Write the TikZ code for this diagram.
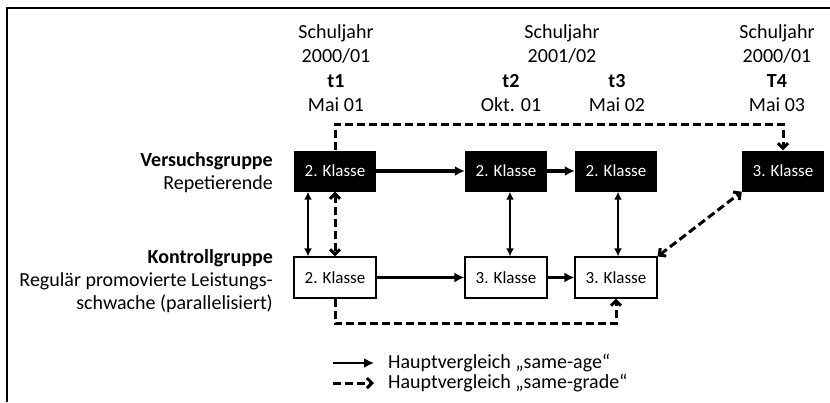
\documentclass[tikz,border=0pt]{standalone}
\usepackage{fontspec}
\setmainfont{Carlito}
\usepackage{tikz}
\usetikzlibrary{arrows.meta,positioning}

\begin{document}
\begin{tikzpicture}[x=1pt,y=-1pt,
  klasse/.style={minimum width=82pt,minimum height=41pt,inner sep=0pt,font=\fontsize{17}{20}\selectfont},
  vgbox/.style={klasse,fill=black,text=white},
  kgbox/.style={klasse,draw=black,line width=1.2pt,fill=white},
  lbl/.style={font=\fontsize{20}{24}\selectfont,inner sep=0pt},
  sameage/.style={line width=3.3pt,-{Latex[length=10pt,width=10pt]}},
  vcomp/.style={line width=2.3pt,{Latex[length=8pt,width=8pt]}-{Latex[length=8pt,width=8pt]}},
  samegrade/.style={line width=3pt,dash pattern=on 8pt off 4pt,-{Straight Barb[length=5pt,width=10pt]}},
  vgrade/.style={samegrade,{Straight Barb[length=5pt,width=10pt]}-{Straight Barb[length=5pt,width=10pt]}}]
\useasboundingbox (0,0) rectangle (830,402);
\draw[line width=2pt] (7,402) -- (7,8) -- (830,8);

% Zeitpunkte
\node[lbl,anchor=base] (sj1) at (336,38) {Schuljahr};
\node[lbl,anchor=base] (yr1) at (336,62.5) {2000/01};
\node[lbl,anchor=base] (t1) at (336,87) {\textbf{t1}};
\node[lbl,anchor=base] (d1) at (336,111.5) {Mai 01};
\node[lbl,anchor=base] (sj2) at (562,38) {Schuljahr};
\node[lbl,anchor=base] (yr2) at (562,62.5) {2001/02};
\node[lbl,anchor=base] (t2) at (511,87) {\textbf{t2}};
\node[lbl,anchor=base] (d2) at (511,111.5) {Okt. 01};
\node[lbl,anchor=base] (t3) at (617,87) {\textbf{t3}};
\node[lbl,anchor=base] (d3) at (617,111.5) {Mai 02};
\node[lbl,anchor=base] (sj4) at (777,38) {Schuljahr};
\node[lbl,anchor=base] (yr4) at (777,62.5) {2000/01};
\node[lbl,anchor=base] (t4) at (777,87) {\textbf{T4}};
\node[lbl,anchor=base] (d4) at (777,111.5) {Mai 03};

% Gruppen
\node[lbl,anchor=base east] (vg) at (273,166) {\textbf{Versuchsgruppe}};
\node[lbl,anchor=base east] (vgsub) at (273,189) {Repetierende};
\node[lbl,anchor=base east] (kg) at (273,263) {\textbf{Kontrollgruppe}};
\node[lbl,anchor=base east] (kgsub) at (273,286) {Regulär promovierte Leistungs-};
\node[lbl,anchor=base east] (kgsubb) at (273,309) {schwache (parallelisiert)};

% Klassen
\node[vgbox] (v1) at (335,171) {2. Klasse};
\node[vgbox] (v2) at (506,171) {2. Klasse};
\node[vgbox] (v3) at (616,171) {2. Klasse};
\node[vgbox] (v4) at (783,171) {3. Klasse};
\node[kgbox] (k1) at (335,277.5) {2. Klasse};
\node[kgbox] (k2) at (506,277.5) {3. Klasse};
\node[kgbox] (k3) at (616,277.5) {3. Klasse};

\draw[sameage] (v1) -- (v2);
\draw[sameage] (v2) -- (v3);
\draw[sameage] (k1) -- (k2);
\draw[sameage] (k2) -- (k3);
\draw[vcomp] ([xshift=-27pt]v1.south) -- ([xshift=-27pt]k1.north);
\draw[vcomp] ([xshift=4pt]v2.south) -- ([xshift=4pt]k2.north);
\draw[vcomp] ([xshift=2pt]v3.south) -- ([xshift=2pt]k3.north);
\draw[vgrade] (v1.south) -- (k1.north);
\draw[samegrade] (v1.north) -- ++(0,-26) -| (v4.north);
\draw[samegrade] (k1.south) -- ++(0,25) -| (k3.south);
\draw[vgrade] (k3.north east) -- (v4.south west);

% Legende
\coordinate (la) at (333,363);
\coordinate (lb) at (374,363);
\coordinate (lc) at (333,383);
\coordinate (ld) at (374,383);
\draw[sameage,line width=2.6pt] (la) -- (lb);
\draw[samegrade] (lc) -- (ld);
\node[lbl,anchor=base west] (lt1) at (388,368) {Hauptvergleich „same-age“};
\node[lbl,anchor=base west] (lt2) at (388,388) {Hauptvergleich „same-grade“};
\end{tikzpicture}
\end{document}
